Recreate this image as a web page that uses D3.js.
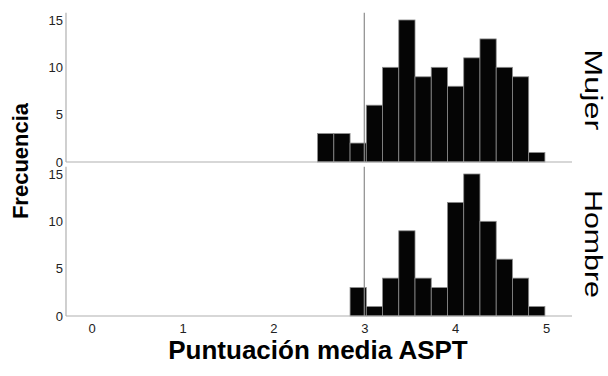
<!DOCTYPE html>
<html><head><meta charset="utf-8">
<script src="https://cdn.jsdelivr.net/npm/d3@7"></script>
<style>body{margin:0;background:#fff}svg{display:block}text{font-family:"Liberation Sans",Arial,sans-serif}</style>
</head><body>
<svg id="c" width="608" height="376"></svg>
<script>
// ---- data ----
const panels = ["Mujer", "Hombre"];
const binStart = 2.486;
const binWidth = 0.1787;
const mujerCounts  = [3, 3, 2, 6, 10, 15, 9, 10, 8, 11, 13, 10, 9, 1];
const hombreCounts = [0, 0, 3, 1, 4, 9, 4, 3, 12, 15, 10, 6, 4, 1];
const xTicks = [0, 1, 2, 3, 4, 5];
const yTicks = [0, 5, 10, 15];
const refValue = 3;
const xTitle = "Puntuación media ASPT";
const yTitle = "Frecuencia";

const svg = d3.select("#c");
const x = d3.scaleLinear().domain([-0.283, 5.286]).range([66, 572]);
const panelBoxes = [{top: 12.7, bottom: 162, labelY: 89.7, labelLen: 81},
                    {top: 166.7, bottom: 316, labelY: 244, labelLen: 108}];
const seriesData = [mujerCounts, hombreCounts];
const axisColor = "#b0b0b0";
const fmt = d3.format("d");

panels.forEach((name, i) => {
  const box = panelBoxes[i];
  const y = d3.scaleLinear().domain([0, 15.77]).range([box.bottom, box.top]);
  const g = svg.append("g");
  const bins = seriesData[i].map((c, k) => ({x0: binStart + k * binWidth, x1: binStart + (k + 1) * binWidth, c}));
  g.selectAll("rect").data(bins.filter(b => b.c > 0)).join("rect")
    .attr("x", d => x(d.x0)).attr("width", d => x(d.x1) - x(d.x0))
    .attr("y", d => y(d.c)).attr("height", d => y(0) - y(d.c))
    .attr("fill", "#050505").attr("stroke", "#8c8c8c").attr("stroke-width", 0.8);
  // reference line
  g.append("line").attr("x1", x(refValue)).attr("x2", x(refValue))
    .attr("y1", box.top).attr("y2", box.bottom).attr("stroke", "#8c8c8c").attr("stroke-width", 1.2);
  // axes
  g.append("line").attr("x1", x.range()[0]).attr("x2", x.range()[0]).attr("y1", box.top).attr("y2", box.bottom)
    .attr("stroke", axisColor).attr("stroke-width", 1.2);
  g.append("line").attr("x1", x.range()[0]).attr("x2", x.range()[1]).attr("y1", box.bottom).attr("y2", box.bottom)
    .attr("stroke", axisColor).attr("stroke-width", 1.2);
  const ay = d3.axisLeft(y).tickValues(yTicks).tickFormat(fmt).tickSize(0).tickPadding(3);
  const ag = g.append("g").attr("transform", `translate(${x.range()[0]},0)`).call(ay);
  ag.select(".domain").remove();
  ag.selectAll("text").attr("font-size", 13).attr("fill", "#222").style("font-family", "'Liberation Sans',Arial,sans-serif");
  // panel label
  svg.append("text").attr("transform", `translate(585,${box.labelY}) rotate(90)`)
    .attr("text-anchor", "middle").attr("font-size", 23).attr("fill", "#000")
    .attr("textLength", box.labelLen).attr("lengthAdjust", "spacingAndGlyphs").text(name);
});

const ax = d3.axisBottom(x).tickValues(xTicks).tickFormat(fmt).tickSize(0).tickPadding(8);
const axg = svg.append("g").attr("transform", "translate(0,316)").call(ax);
axg.select(".domain").remove();
axg.selectAll("text").attr("font-size", 13).attr("fill", "#222").style("font-family", "'Liberation Sans',Arial,sans-serif");

svg.append("text").attr("x", 318).attr("y", 359).attr("text-anchor", "middle")
  .attr("font-size", 26).attr("font-weight", "bold").attr("fill", "#000").text(xTitle);
svg.append("text").attr("transform", "translate(28,161) rotate(-90)").attr("text-anchor", "middle")
  .attr("font-size", 22).attr("font-weight", "bold").attr("fill", "#000").text(yTitle);
</script>
</body></html>
